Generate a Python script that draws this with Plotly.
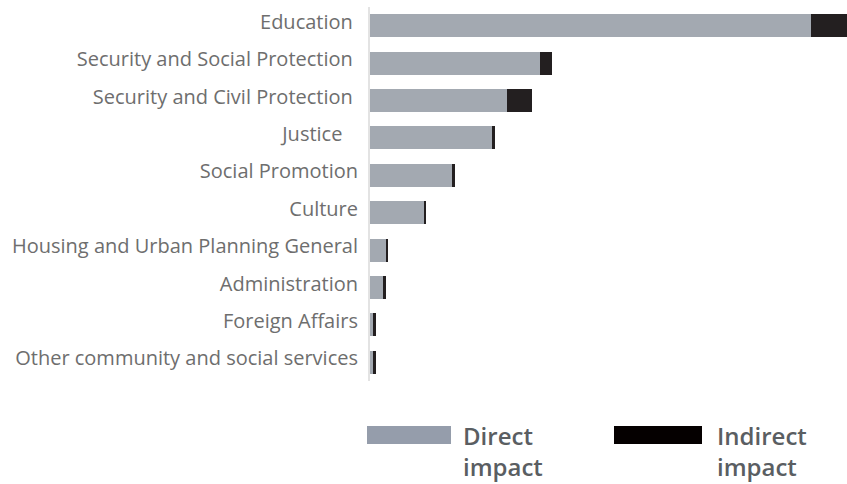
import plotly.graph_objects as go

# Budget areas and their direct / indirect impact values
categories = [
    "Education",
    "Security and Social Protection",
    "Security and Civil Protection",
    "Justice",
    "Social Promotion",
    "Culture",
    "Housing and Urban Planning General",
    "Administration",
    "Foreign Affairs",
    "Other community and social services",
]
# Tick labels as typeset (a few carry trailing spaces)
NBSP = "\u00a0"
tick_labels = [
    "Education" + NBSP,
    "Security and Social Protection" + NBSP,
    "Security and Civil Protection" + NBSP,
    "Justice" + NBSP * 3,
    "Social Promotion",
    "Culture",
    "Housing and Urban Planning General",
    "Administration",
    "Foreign Affairs",
    "Other community and social services",
]
direct_impact = [441, 170, 137, 122, 82, 53.5, 15.5, 13, 2.5, 2.5]
indirect_impact = [36, 12, 25, 3, 2.5, 2.5, 2.5, 2.5, 3, 3]

series_names = ["Direct impact", "Indirect impact"]
bar_colors = ["#a3a9b1", "#231f20"]
legend_colors = ["#959dab", "#050000"]

W, H = 847, 484
M_L, M_R, M_T, M_B = 370, 0, 7, 103

fig = go.Figure()
fig.add_trace(go.Bar(
    y=categories, x=direct_impact, orientation="h", name=series_names[0],
    marker=dict(color=bar_colors[0], line=dict(width=0)),
))
fig.add_trace(go.Bar(
    y=categories, x=indirect_impact, orientation="h", name=series_names[1],
    marker=dict(color=bar_colors[1], line=dict(width=0)),
))

totals = [d + i for d, i in zip(direct_impact, indirect_impact)]


def px_to_paper(px, py):
    pw = W - M_L - M_R
    ph = H - M_T - M_B
    return (px - M_L) / pw, (H - M_B - py) / ph


# Custom legend below the plot: wide swatches with semibold two-line labels
shapes = []
annotations = []
legend_items = [(367, 451, 462), (614, 702, 716)]
for (x0, x1, tx), name, col in zip(legend_items, series_names, legend_colors):
    a0, b0 = px_to_paper(x0, 444)
    a1, b1 = px_to_paper(x1, 426)
    shapes.append(dict(type="rect", xref="paper", yref="paper",
                       x0=a0, x1=a1, y0=b0, y1=b1,
                       fillcolor=col, line=dict(width=0)))
    ax, ay = px_to_paper(tx, 418)
    annotations.append(dict(
        xref="paper", yref="paper", x=ax, y=ay, xanchor="left", yanchor="top",
        text=name.replace(" ", "<br>", 1), showarrow=False, align="left",
        borderpad=0,
        font=dict(family="Open Sans", size=24, color="#5a5e62", weight=600),
    ))

fig.update_layout(
    width=W, height=H,
    margin=dict(l=M_L, r=M_R, t=M_T, b=M_B, pad=0),
    barmode="stack",
    bargap=0.38,
    showlegend=False,
    plot_bgcolor="white",
    paper_bgcolor="white",
    font=dict(family="Open Sans", size=20, color="#6e6e6e"),
    xaxis=dict(range=[0, max(totals)], visible=False, fixedrange=True),
    yaxis=dict(
        autorange="reversed", showline=True, linecolor="#e3e3e3", linewidth=2,
        ticks="", ticklabelstandoff=6, ticklabelshift=4,
        tickmode="array", tickvals=categories, ticktext=tick_labels,
        showgrid=False, zeroline=False,
    ),
    shapes=shapes,
    annotations=annotations,
)

fig.write_html("out.html")
